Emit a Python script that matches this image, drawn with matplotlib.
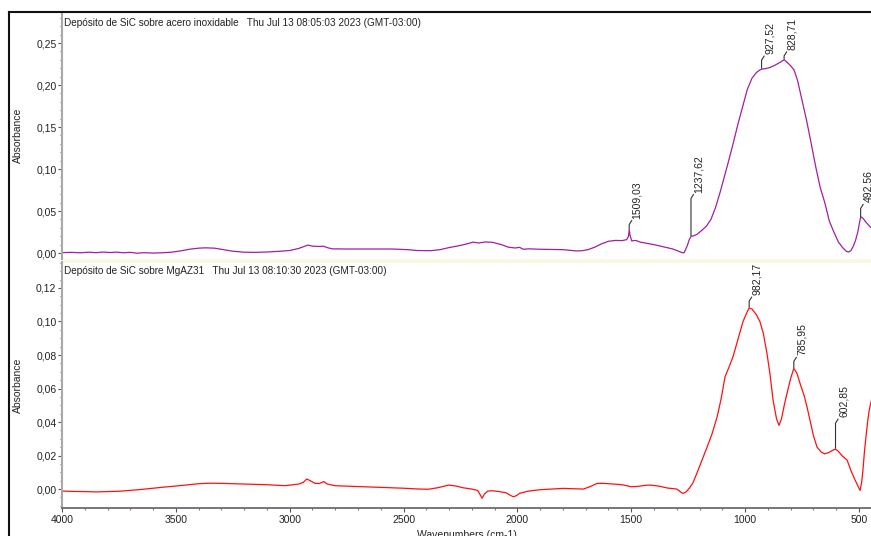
import numpy as np
import matplotlib
matplotlib.use("Agg")
import matplotlib.pyplot as plt
from matplotlib.lines import Line2D
from matplotlib.patches import Rectangle
from matplotlib.ticker import MultipleLocator, FuncFormatter

plt.rcParams['font.family'] = ['Liberation Sans', 'DejaVu Sans']

# SiC on stainless steel
steel_wn = [4000, 3960, 3920, 3880, 3850, 3820, 3790, 3760, 3730, 3700, 3670, 3640,
            3600, 3560, 3520, 3480, 3440, 3400, 3370, 3330, 3290, 3250, 3200, 3150,
            3100, 3050, 3000, 2960, 2935, 2920, 2900, 2870, 2853, 2835, 2815, 2750,
            2650, 2550, 2480, 2440, 2380, 2340, 2300, 2260, 2220, 2195, 2170, 2140,
            2110, 2070, 2040, 2010, 1990, 1975, 1950, 1900, 1850, 1800, 1770, 1740,
            1715, 1690, 1660, 1630, 1600, 1570, 1540, 1520, 1512, 1509, 1505, 1498,
            1480, 1460, 1440, 1400, 1360, 1320, 1295, 1280, 1268, 1255, 1245, 1237,
            1225, 1210, 1190, 1170, 1150, 1130, 1110, 1090, 1070, 1050, 1030, 1010,
            990, 970, 950, 935, 927, 910, 890, 870, 850, 835, 828, 815, 800, 785,
            770, 750, 730, 710, 690, 670, 650, 630, 610, 590, 570, 555, 545, 535,
            525, 515, 505, 497, 492, 485, 478, 470, 460, 450, 440]
steel_abs = [0.0005, 0.0008, 0.0003, 0.0010, 0.0004, 0.0012, 0.0006, 0.0011, 0.0003, 0.0008, -0.0002, 0.0004,
             0.0000, 0.0003, 0.0010, 0.0025, 0.0045, 0.0058, 0.0062, 0.0058, 0.0040, 0.0022, 0.0010, 0.0008,
             0.0012, 0.0020, 0.0030, 0.0055, 0.0080, 0.0095, 0.0082, 0.0078, 0.0082, 0.0065, 0.0050, 0.0048,
             0.0048, 0.0048, 0.0040, 0.0030, 0.0028, 0.0040, 0.0065, 0.0085, 0.0110, 0.0130, 0.0120, 0.0132,
             0.0128, 0.0100, 0.0070, 0.0060, 0.0068, 0.0045, 0.0050, 0.0045, 0.0042, 0.0040, 0.0032, 0.0025,
             0.0028, 0.0040, 0.0070, 0.0110, 0.0140, 0.0150, 0.0148, 0.0160, 0.0200, 0.0280, 0.0210, 0.0145,
             0.0150, 0.0130, 0.0120, 0.0100, 0.0075, 0.0050, 0.0025, 0.0008, 0.0002, 0.0080, 0.0160, 0.0200,
             0.0205, 0.0225, 0.0270, 0.0320, 0.0400, 0.0540, 0.0720, 0.0920, 0.1120, 0.1330, 0.1550, 0.1750,
             0.1950, 0.2080, 0.2150, 0.2180, 0.2190, 0.2195, 0.2210, 0.2235, 0.2265, 0.2290, 0.2300, 0.2270, 0.2230, 0.2180,
             0.2060, 0.1820, 0.1580, 0.1310, 0.1030, 0.0780, 0.0600, 0.0380, 0.0250, 0.0130, 0.0060, 0.0020, 0.0012, 0.0030,
             0.0080, 0.0150, 0.0250, 0.0370, 0.0430, 0.0420, 0.0400, 0.0370, 0.0340, 0.0310, 0.0290]

# SiC on MgAZ31
mg_wn = [4000, 3950, 3900, 3850, 3800, 3750, 3700, 3650, 3600, 3550, 3500, 3450,
         3400, 3350, 3300, 3250, 3200, 3150, 3100, 3050, 3020, 2990, 2960, 2940,
         2925, 2910, 2890, 2870, 2850, 2835, 2800, 2700, 2600, 2500, 2430, 2390,
         2350, 2300, 2270, 2240, 2200, 2175, 2165, 2155, 2145, 2130, 2110, 2080,
         2050, 2030, 2018, 2005, 1990, 1975, 1950, 1900, 1850, 1800, 1750, 1710,
         1680, 1650, 1620, 1580, 1540, 1500, 1470, 1440, 1418, 1380, 1340, 1300,
         1285, 1273, 1260, 1245, 1230, 1210, 1190, 1167, 1145, 1123, 1105, 1088,
         1070, 1053, 1030, 1009, 990, 982, 970, 950, 935, 920, 904, 890, 877, 862,
         851, 840, 828, 816, 800, 786, 772, 755, 740, 728, 715, 700, 684, 665, 650,
         630, 610, 603, 590, 575, 552, 535, 517, 505, 495, 488, 482, 476, 470, 462,
         455, 447, 440]
mg_abs = [-0.0012, -0.0014, -0.0015, -0.0017, -0.0015, -0.0013, -0.0008, -0.0002, 0.0005, 0.0012, 0.0018, 0.0025,
          0.0032, 0.0035, 0.0034, 0.0032, 0.0030, 0.0028, 0.0026, 0.0022, 0.0020, 0.0025, 0.0030, 0.0040,
          0.0060, 0.0050, 0.0035, 0.0033, 0.0045, 0.0030, 0.0020, 0.0015, 0.0010, 0.0005, 0.0000, -0.0001,
          0.0008, 0.0024, 0.0018, 0.0008, 0.0000, -0.0008, -0.0030, -0.0055, -0.0030, -0.0012, -0.0010, -0.0015,
          -0.0022, -0.0038, -0.0046, -0.0040, -0.0025, -0.0020, -0.0012, -0.0004, 0.0000, 0.0004, 0.0002, 0.0000,
          0.0015, 0.0034, 0.0034, 0.0030, 0.0026, 0.0014, 0.0016, 0.0022, 0.0024, 0.0018, 0.0006, 0.0000,
          -0.0015, -0.0026, -0.0018, 0.0005, 0.0034, 0.0100, 0.0170, 0.0250, 0.0330, 0.0430, 0.0540, 0.0670,
          0.0730, 0.0790, 0.0900, 0.1000, 0.1060, 0.1080, 0.1075, 0.1040, 0.1000, 0.0930, 0.0810, 0.0680, 0.0530, 0.0420,
          0.0380, 0.0420, 0.0500, 0.0570, 0.0660, 0.0720, 0.0690, 0.0615, 0.0555, 0.0490, 0.0410, 0.0320, 0.0250, 0.0220, 0.0210,
          0.0220, 0.0235, 0.0238, 0.0225, 0.0200, 0.0173, 0.0110, 0.0054, 0.0020, -0.0008, 0.0040, 0.0120, 0.0220, 0.0300, 0.0400,
          0.0470, 0.0520, 0.0560]

steel_peaks = [1509.03, 1237.62, 927.52, 828.71, 492.56]
mg_peaks = [982.17, 785.95, 602.85]

steel_title = "Depósito de SiC sobre acero inoxidable   Thu Jul 13 08:05:03 2023 (GMT-03:00)"
mg_title = "Depósito de SiC sobre MgAZ31   Thu Jul 13 08:10:30 2023 (GMT-03:00)"

W, H = 871, 536
fig = plt.figure(figsize=(W / 100, H / 100), dpi=100)


def px_axes(x0, y0, x1, y1):
    return fig.add_axes([x0 / W, 1 - y1 / H, (x1 - x0) / W, (y1 - y0) / H])


comma = FuncFormatter(lambda v, _: f"{v:.2f}".replace('.', ','))
txt = '#222222'


def style_axes(ax, ymin, ymax, major, minor, show_x):
    ax.set_xlim(4000, 447)
    ax.set_ylim(ymin, ymax)
    for s in ['top', 'right']:
        ax.spines[s].set_visible(False)
    ax.spines['left'].set_color('#a8a8a8')
    ax.spines['left'].set_linewidth(1.5)
    ax.yaxis.set_major_locator(MultipleLocator(major))
    ax.yaxis.set_minor_locator(MultipleLocator(minor))
    ax.yaxis.set_major_formatter(comma)
    ax.tick_params(axis='y', which='major', length=3, width=0.8, color='#555555',
                   labelsize=7.5, labelcolor=txt, pad=1)
    ax.tick_params(axis='y', which='minor', length=1.2, width=0.8, color='#777777')
    ax.set_ylabel('Absorbance', fontsize=7.5, color=txt)
    ax.yaxis.set_label_coords(-0.048, 0.5)
    ax.xaxis.set_major_locator(MultipleLocator(500))
    ax.xaxis.set_minor_locator(MultipleLocator(100))
    if show_x:
        ax.spines['bottom'].set_color('#606060')
        ax.spines['bottom'].set_linewidth(1.2)
        ax.tick_params(axis='x', which='major', length=3, width=0.8, color='#555555',
                       labelsize=7.5, labelcolor=txt, pad=2)
        ax.tick_params(axis='x', which='minor', length=1.5, width=0.8, color='#777777')
        ax.set_xlabel('Wavenumbers (cm-1)', fontsize=7.5, color=txt, labelpad=4)
    else:
        ax.spines['bottom'].set_visible(False)
        ax.tick_params(axis='x', which='both', bottom=False, labelbottom=False)


def mark_peaks(ax, wn, ab, peaks, leads):
    # vertical leader from the curve with a short kink, value written above it
    order = np.argsort(wn)
    xs = np.array(wn)[order]
    ys = np.array(ab)[order]
    inv = ax.transData.inverted()
    for p, h in zip(peaks, leads):
        y = np.interp(p, xs, ys)
        base = ax.transData.transform((p, y))
        pts = inv.transform(np.array([[0, 1], [0, h], [2.5, h + 4]]) + base)
        ax.plot(pts[:, 0], pts[:, 1], color='#333333', lw=0.8, clip_on=False)
        tx, ty = inv.transform(base + np.array([8, h + 6]))
        ax.text(tx, ty, f"{p:.2f}".replace('.', ','), rotation=90,
                ha='center', va='bottom', fontsize=7.5, color=txt, clip_on=False)


ax1 = px_axes(62, 12, 871, 259)
ax2 = px_axes(62, 262, 871, 508)

style_axes(ax1, -0.0071, 0.287, 0.05, 0.01, False)
style_axes(ax2, -0.0113, 0.1355, 0.02, 0.005, True)

ax1.plot(steel_wn, steel_abs, color='#a020a0', lw=0.9)
ax2.plot(mg_wn, mg_abs, color='#ff1010', lw=0.9)

ax1.text(0.003, 0.977, steel_title, transform=ax1.transAxes, fontsize=7.2,
         color=txt, ha='left', va='top')
ax2.text(0.003, 0.983, mg_title, transform=ax2.transAxes, fontsize=7.2,
         color=txt, ha='left', va='top')

fig.canvas.draw()
mark_peaks(ax1, steel_wn, steel_abs, steel_peaks, [5, 38, 9, 4, 9])
mark_peaks(ax2, mg_wn, mg_abs, mg_peaks, [7, 7, 26])

# thin cream strip between the two panels
fig.add_artist(Rectangle((63 / W, 1 - 263 / H), (W - 63) / W, 4 / H,
                         transform=fig.transFigure, color='#fbf6e6', lw=0))

# outer frame
fig.add_artist(Line2D([9 / W, 9 / W], [0, 1 - 12 / H], transform=fig.transFigure,
                      color='#111111', lw=1.5))
fig.add_artist(Line2D([9 / W, 1], [1 - 12 / H, 1 - 12 / H], transform=fig.transFigure,
                      color='#111111', lw=1.5))

fig.savefig('out.png', dpi=100)
